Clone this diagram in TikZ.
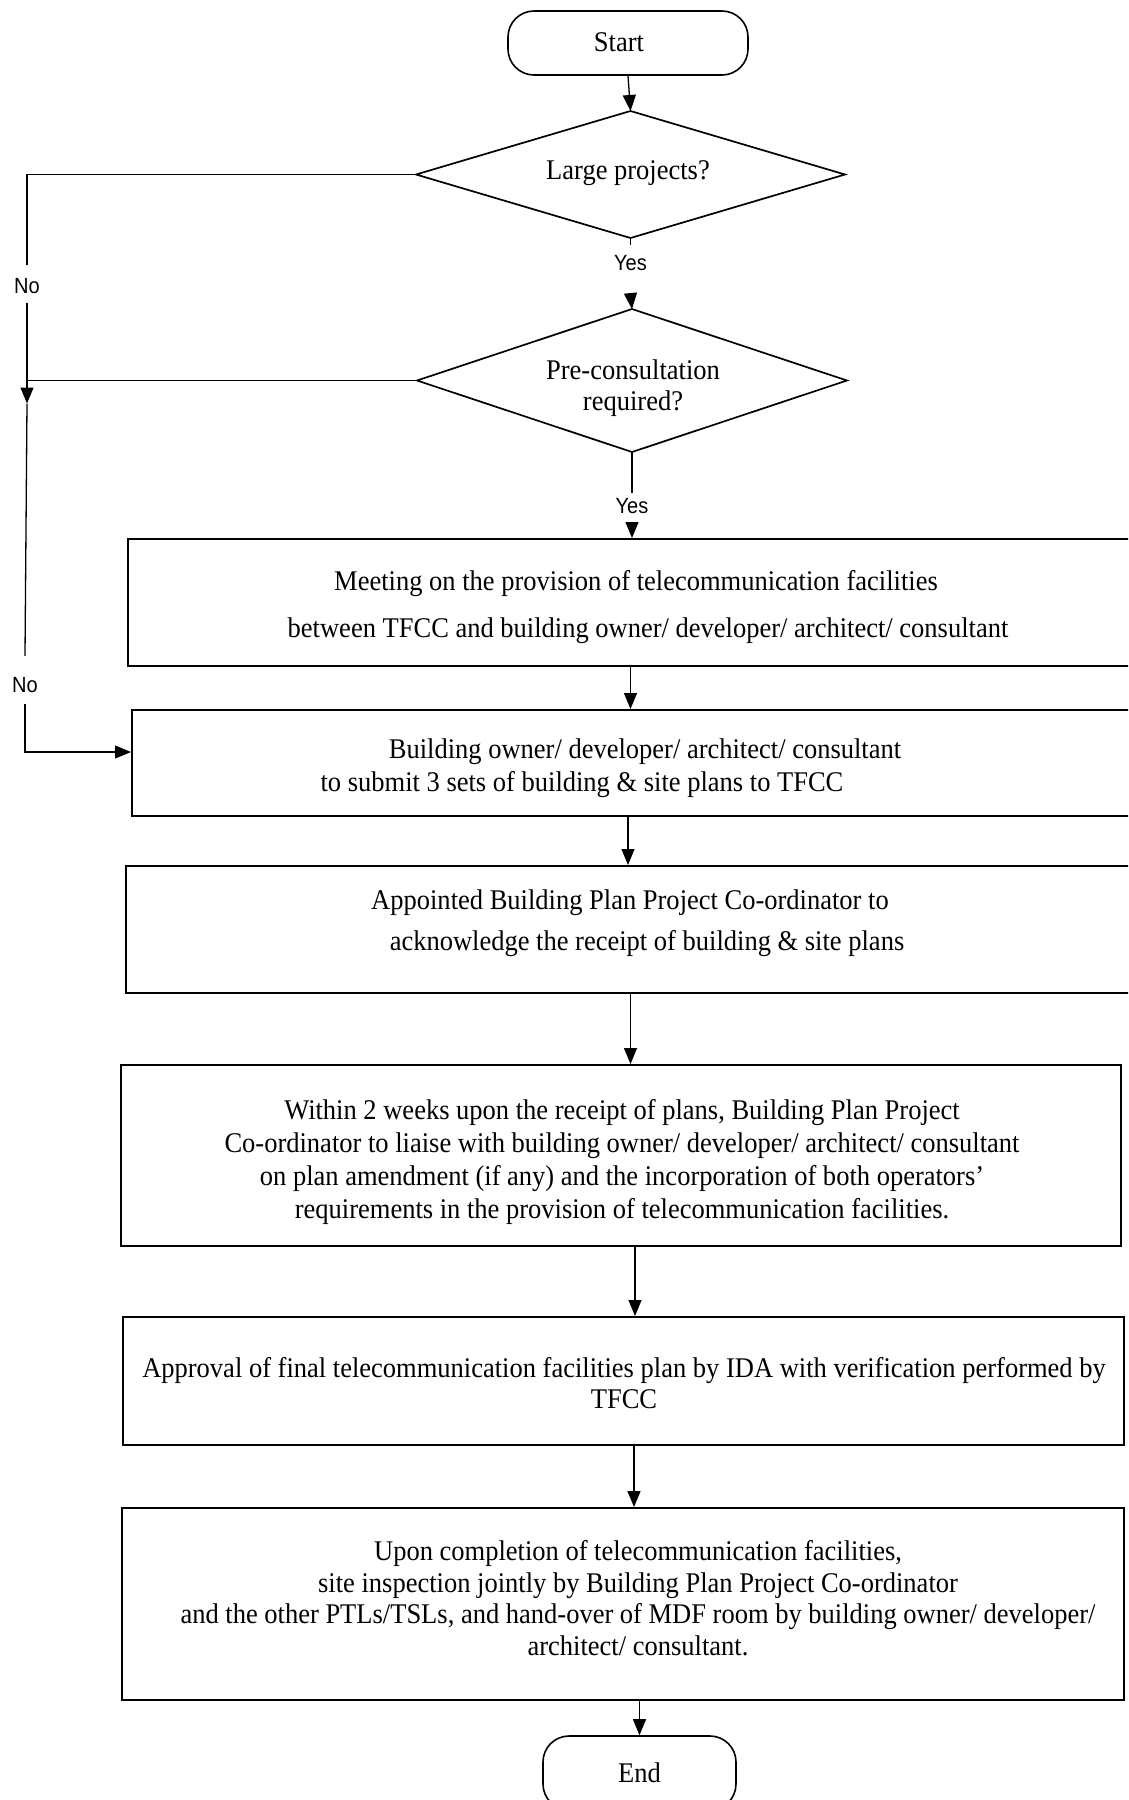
\documentclass[tikz,border=0pt]{standalone}
\usepackage{fontspec}
\setmainfont{Liberation Serif}[FakeStretch=0.93]
\newfontfamily\lblfont{Liberation Sans}[FakeStretch=0.91]
\usetikzlibrary{arrows.meta,calc}
\begin{document}
\begin{tikzpicture}[x=1pt,y=-1pt,
  txt/.style={align=center, inner sep=0pt, font=\fontsize{28.5}{31.6}\selectfont},
  procbox/.style={draw, line width=2pt, rectangle, inner sep=0pt},
  term/.style={draw, line width=1.6pt, rounded corners=26pt, inner sep=0pt, font=\fontsize{28.5}{31.6}\selectfont},
  decision/.style={rectangle, inner sep=0pt, outer sep=0pt},
  diamondline/.style={line width=1.7pt, line join=miter},
  conn/.style={line width=1.3pt},
  arr/.style={conn, -{Triangle[length=16pt,width=13pt]}},
  lbl/.style={inner sep=0pt, anchor=base, font=\lblfont\fontsize{22}{24}\selectfont},
]
\clip (0,0) rectangle (1128,1800);
\fill[white] (0,0) rectangle (1128,1800);

% terminals and decisions
\node[term, minimum width=240pt, minimum height=64pt] (start) at (628,43) {\raisebox{2pt}{Start}\hspace*{18pt}};
\node[decision, minimum width=429pt, minimum height=127pt] (d1) at (630.5,174.5) {};
\draw[diamondline] (d1.north) -- (d1.east) -- (d1.south) -- (d1.west) -- cycle;
\node[txt] (d1t) at (628,173) {Large projects?};
\node[decision, minimum width=430pt, minimum height=143pt] (d2) at (632,380.5) {};
\draw[diamondline] (d2.north) -- (d2.east) -- (d2.south) -- (d2.west) -- cycle;
\node[txt] (d2t) at (633,388) {Pre-consultation\\required?};

% process boxes
\node[procbox, minimum width=1012pt, minimum height=127pt] (b1) at (634,602.5) {};
\node[procbox, minimum width=1008pt, minimum height=106pt] (b2) at (636,763) {};
\node[procbox, minimum width=1014pt, minimum height=127pt] (b3) at (633,929.5) {};
\node[procbox, minimum width=1000pt, minimum height=181pt] (b4) at (621,1155.5) {};
\node[procbox, minimum width=1001pt, minimum height=128pt] (b5) at (623.5,1381) {};
\node[procbox, minimum width=1002pt, minimum height=192pt] (b6) at (623,1604) {};
\node[term, minimum width=193pt, minimum height=74pt] (stop) at (639.5,1773) {End};

% box texts
\node[txt] (t1) at (642,607) {Meeting on the provision of telecommunication facilities\hspace*{12pt}\\[15.4pt]\hspace*{12pt}between TFCC and building owner/ developer/ architect/ consultant};
\node[txt] (t2) at (613.5,768) {\hspace*{63pt}Building owner/ developer/ architect/ consultant\\[2pt]to submit 3 sets of building \& site plans to TFCC\hspace*{63pt}};
\node[txt] (t3) at (638.5,923.5) {Appointed Building Plan Project Co-ordinator to\hspace*{17pt}\\[9.4pt]\hspace*{17pt}acknowledge the receipt of building \& site plans};
\node[txt] (t4) at (622,1162) {Within 2 weeks upon the receipt of plans, Building Plan Project\\[1.5pt]Co-ordinator to liaise with building owner/ developer/ architect/ consultant\\[1.5pt]on plan amendment (if any) and the incorporation of both operators’\\[1.5pt]requirements in the provision of telecommunication facilities.};
\node[txt] (t5) at (624,1383) {Approval of final telecommunication facilities plan by IDA with verification performed by\\TFCC};
\node[txt] (t6) at (638,1598) {Upon completion of telecommunication facilities,\\site inspection jointly by Building Plan Project Co-ordinator\\and the other PTLs/TSLs, and hand-over of MDF room by building owner/ developer/\\architect/ consultant.};

% branch labels
\node[lbl, text height=25.5pt, text depth=22.5pt] (yes1) at (630.5,270.5) {Yes};
\node[lbl, text height=20pt, text depth=11pt] (yes2) at (632,513) {Yes};
\node[lbl, text height=28pt, text depth=10pt] (no1) at (27,293) {No};
\node[lbl, text height=36pt, text depth=12pt] (no2) at (25,692) {No};

% main flow
\draw[arr] (start.south) -- (d1.north);
\draw[conn] (d1.south) -- (yes1.north);
\draw[arr] (yes1.south) -- (d2.north);
\draw[conn] (d2.south) -- (yes2.north);
\draw[arr] (yes2.south) -- (b1.north -| yes2.south);
\draw[arr] (b1.south -| d1.center) -- (b2.north -| d1.center);
\draw[arr] (b2.south -| start.center) -- (b3.north -| start.center);
\draw[arr] (b3.south -| d1.center) -- (b4.north -| d1.center);
\coordinate (c45) at ($(b5.north)+(11.5,0)$);
\draw[arr] (c45 |- b4.south) -- (c45);
\coordinate (c56) at ($(b6.north)+(11,0)$);
\draw[arr] (c56 |- b5.south) -- (c56);
\draw[arr] (b6.south -| stop.north) -- (stop.north);

% "No" branches
\draw[conn] (d1.west) -| (no1.north);
\coordinate (j) at (no1 |- d2.west);
\coordinate (jt) at ($(j)+(0,23)$);
\draw[conn] (no1.south) -- (j);
\draw[conn] (d2.west) -- (j);
\draw[arr] (j) -- (jt);
\draw[conn] (jt) -- (no2.north);
\draw[arr] (no2.south) |- ([yshift=11pt]b2.west);
\end{tikzpicture}
\end{document}
